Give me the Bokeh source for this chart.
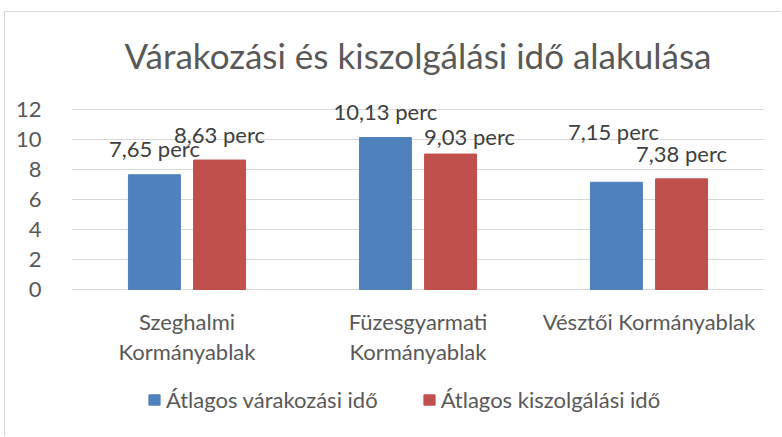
from bokeh.plotting import figure
from bokeh.models import ColumnDataSource, FactorRange, LabelSet, Label, Legend, LegendItem, Range1d
from bokeh.core.properties import value
from bokeh.transform import dodge
from bokeh.embed import file_html
from bokeh.resources import INLINE

title_text = "Várakozási és kiszolgálási idő alakulása"
categories = ["Szeghalmi Kormányablak", "Füzesgyarmati Kormányablak", "Vésztői Kormányablak"]
category_labels = ["Szeghalmi\nKormányablak", "Füzesgyarmati\nKormányablak", "Vésztői Kormányablak"]
series_names = ["Átlagos várakozási idő", "Átlagos kiszolgálási idő"]
waiting = [7.65, 10.13, 7.15]
service = [8.63, 9.03, 7.38]
waiting_labels = ["7,65 perc", "10,13 perc", "7,15 perc"]
service_labels = ["8,63 perc", "9,03 perc", "7,38 perc"]
y_ticks = [0, 2, 4, 6, 8, 10, 12]

# label nudges (screen px), style only
waiting_dx = [0, 0, -3]
waiting_dy = [18, 18, 42]
service_dx = [0, 19, 0]
service_dy = [17, 9, 17]

FONT = "Lato"
BLUE = "#4F81BD"
RED = "#C0504D"
TXT = "#595959"

line1 = [c.split("\n")[0] for c in category_labels]
line2 = [c.split("\n")[1] if "\n" in c else "" for c in category_labels]

src = ColumnDataSource(dict(cat=categories, w=waiting, s=service,
                            wl=waiting_labels, sl=service_labels,
                            wdx=waiting_dx, wdy=waiting_dy, sdx=service_dx, sdy=service_dy,
                            l1=line1, l2=line2, base=[0] * len(categories)))

# frame covers plot area horizontally and the full height; 15 px per unit, 0 at y=289
p = figure(width=777, height=425, x_range=FactorRange(*categories),
           y_range=Range1d(-148 / 15, 277 / 15),
           output_backend="svg", toolbar_location=None,
           min_border_left=66, min_border_right=18, min_border_top=0, min_border_bottom=0)
p.styles = {"margin-left": "4px", "margin-top": "11px",
            "border-left": "1px solid #d9d9d9", "border-top": "1px solid #d9d9d9"}
p.outline_line_color = None
p.background_fill_color = "white"
p.border_fill_color = "white"

off = 0.141
bw = 0.225
rb = p.vbar(x=dodge("cat", -off, range=p.x_range), top="w", width=bw, source=src,
            fill_color=BLUE, line_color=BLUE)
rr = p.vbar(x=dodge("cat", off, range=p.x_range), top="s", width=bw, source=src,
            fill_color=RED, line_color=RED)

p.xaxis.visible = False
p.xgrid.visible = False
p.ygrid.ticker = y_ticks
p.ygrid.grid_line_color = "#d9d9d9"
p.ygrid.grid_line_width = 1
p.yaxis.ticker = y_ticks
p.yaxis.axis_line_color = None
p.yaxis.major_tick_line_color = None
p.yaxis.minor_tick_line_color = None
p.yaxis.major_label_text_font = FONT
p.yaxis.major_label_text_font_size = "22px"
p.yaxis.major_label_text_color = TXT
p.yaxis.major_label_standoff = 24

for col, lab, dx, dy in (("w", "wl", "wdx", "wdy"), ("s", "sl", "sdx", "sdy")):
    o = -off if col == "w" else off
    p.add_layout(LabelSet(x=dodge("cat", o, range=p.x_range), y=col, text=lab,
                          x_offset=dx, y_offset=dy, source=src,
                          text_align="center", text_baseline="alphabetic",
                          text_font=value(FONT), text_font_size="22px", text_color="#404040"))

for lab, yo in (("l1", -32), ("l2", -62)):
    p.add_layout(LabelSet(x="cat", y="base", text=lab, y_offset=yo, source=src,
                          text_align="center", text_baseline="middle",
                          text_font=value(FONT), text_font_size="22px", text_color=TXT))

p.add_layout(Label(x=1.5, y=0, y_offset=235, text=title_text, text_align="center",
                   text_baseline="middle", text_font=FONT, text_font_size="35px",
                   text_color=TXT))

legend = Legend(items=[LegendItem(label=series_names[0], renderers=[rb]),
                       LegendItem(label=series_names[1], renderers=[rr])],
                orientation="horizontal", location=(76, 24),
                glyph_width=14, glyph_height=13, label_standoff=5, spacing=44,
                padding=0, margin=0, border_line_color=None, background_fill_alpha=0,
                label_text_font=FONT, label_text_font_size="22px", label_text_color=TXT)
p.add_layout(legend)

open("out.html", "w").write(file_html(p, INLINE))
